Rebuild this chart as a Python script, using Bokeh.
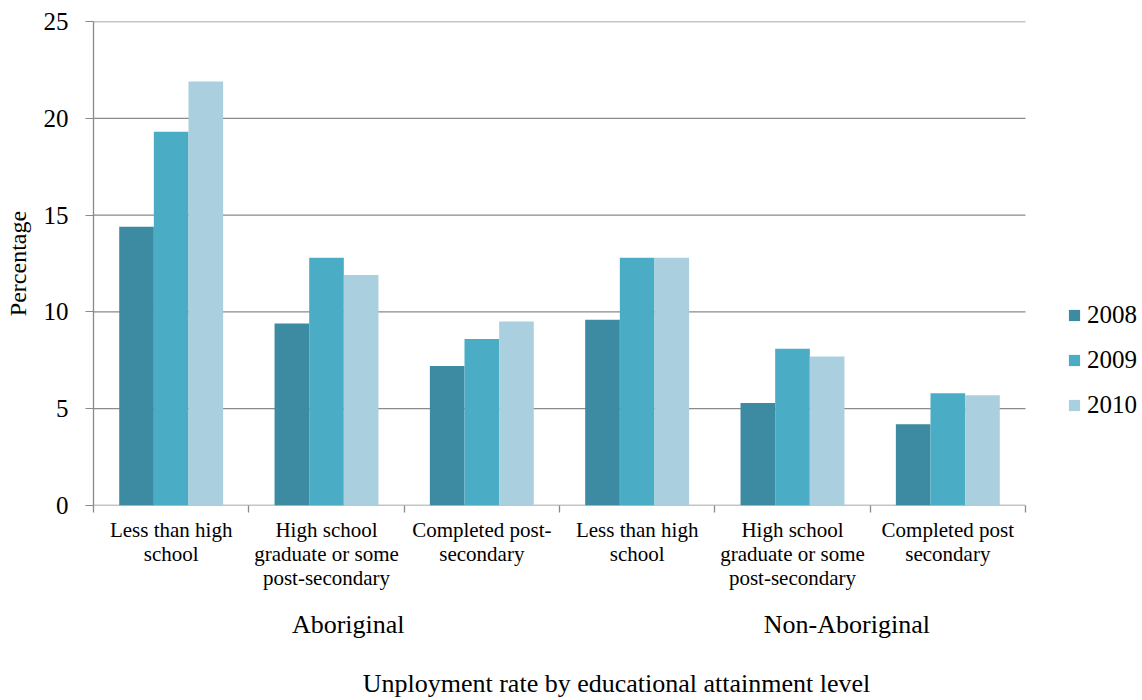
from bokeh.plotting import figure
from bokeh.models import Range1d, FixedTicker, LinearAxis, Legend, LegendItem, ColumnDataSource
from bokeh.embed import file_html
from bokeh.resources import INLINE

categories = ["Less than high\nschool", "High school\ngraduate or some\npost-secondary", "Completed post-\nsecondary",
              "Less than high\nschool", "High school\ngraduate or some\npost-secondary", "Completed post\nsecondary"]
groups = ["Aboriginal", "Non-Aboriginal"]
years = ["2008", "2009", "2010"]
v2008 = [14.4, 9.4, 7.2, 9.6, 5.3, 4.2]
v2009 = [19.3, 12.8, 8.6, 12.8, 8.1, 5.8]
v2010 = [21.9, 11.9, 9.5, 12.8, 7.7, 5.7]
colors = ["#3d8ba3", "#4bacc6", "#aacfde"]
yticks = [0, 5, 10, 15, 20, 25]

FONT = "Liberation Serif"
GRID = "#8a8a8a"

n = len(categories)
# frame extends to the right edge so the legend can sit beside the bars (not clipped)
p = figure(width=1142, height=700, x_range=Range1d(0, 6.734), y_range=Range1d(0, 25),
           output_backend="svg", toolbar_location=None,
           min_border_left=93, min_border_right=3, min_border_top=21, min_border_bottom=195)
p.outline_line_color = None
p.background_fill_color = "white"
p.border_fill_color = "white"

# horizontal gridlines (and baseline) limited to the category area
p.segment(x0=[0] * len(yticks), x1=[n] * len(yticks), y0=yticks, y1=yticks,
          line_color=GRID, line_width=1.3)

xc = [i + 0.5 for i in range(n)]
bw = 0.223
offsets = [-bw, 0.0, bw]
renderers = []
for vals, off, col in zip([v2008, v2009, v2010], offsets, colors):
    src = ColumnDataSource(dict(x=[c + off for c in xc], top=vals))
    r = p.vbar(x="x", top="top", width=bw, source=src, fill_color=col, line_color=None)
    renderers.append(r)

p.xgrid.visible = False
p.ygrid.visible = False

# y axis
ya = p.yaxis[0]
ya.ticker = FixedTicker(ticks=yticks)
ya.axis_line_color = GRID
ya.axis_line_width = 1.3
ya.major_tick_line_color = GRID
ya.minor_tick_line_color = None
ya.major_tick_out = 8
ya.major_tick_in = 0
ya.major_label_standoff = 17
ya.major_label_text_font = FONT
ya.major_label_text_font_size = "25px"
ya.major_label_text_color = "black"
ya.axis_label = "Percentage"
ya.axis_label_text_font = FONT
ya.axis_label_text_font_size = "24px"
ya.axis_label_text_font_style = "normal"
ya.axis_label_text_color = "black"
ya.axis_label_standoff = 10

# x axis 1: categories
xa = p.xaxis[0]
xa.ticker = FixedTicker(ticks=xc, minor_ticks=list(range(n + 1)))
xa.major_label_overrides = {t: lab for t, lab in zip(xc, categories)}
xa.axis_line_color = None
xa.major_tick_line_color = None
xa.minor_tick_line_color = GRID
xa.minor_tick_line_width = 1.3
xa.minor_tick_out = 7
xa.minor_tick_in = 0
xa.major_label_standoff = 5
xa.major_label_text_font = FONT
xa.major_label_text_font_size = "21px"
xa.major_label_text_color = "black"
xa.major_label_text_line_height = 1.0

# x axis 2: groups + title
gx = [1.64, 4.85]
xa2 = LinearAxis(ticker=FixedTicker(ticks=gx), major_label_overrides={t: g for t, g in zip(gx, groups)})
xa2.axis_line_color = None
xa2.major_tick_line_color = None
xa2.minor_tick_line_color = None
xa2.major_label_standoff = 11
xa2.major_label_text_font = FONT
xa2.major_label_text_font_size = "26px"
xa2.major_label_text_color = "black"
xa2.axis_label = "Unployment rate by educational attainment level"
xa2.axis_label_text_font = FONT
xa2.axis_label_text_font_size = "26px"
xa2.axis_label_text_font_style = "normal"
xa2.axis_label_text_color = "black"
xa2.axis_label_standoff = 27
p.add_layout(xa2, "below")

legend = Legend(items=[LegendItem(label=y, renderers=[r]) for y, r in zip(years, renderers)],
                location=(974, 85), margin=0, padding=0, spacing=15,
                glyph_width=14, glyph_height=14, label_standoff=6, label_height=30,
                label_text_font=FONT, label_text_font_size="25px", label_text_color="black",
                border_line_color=None, background_fill_alpha=0)
p.add_layout(legend)

open("out.html", "w").write(file_html(p, INLINE))
